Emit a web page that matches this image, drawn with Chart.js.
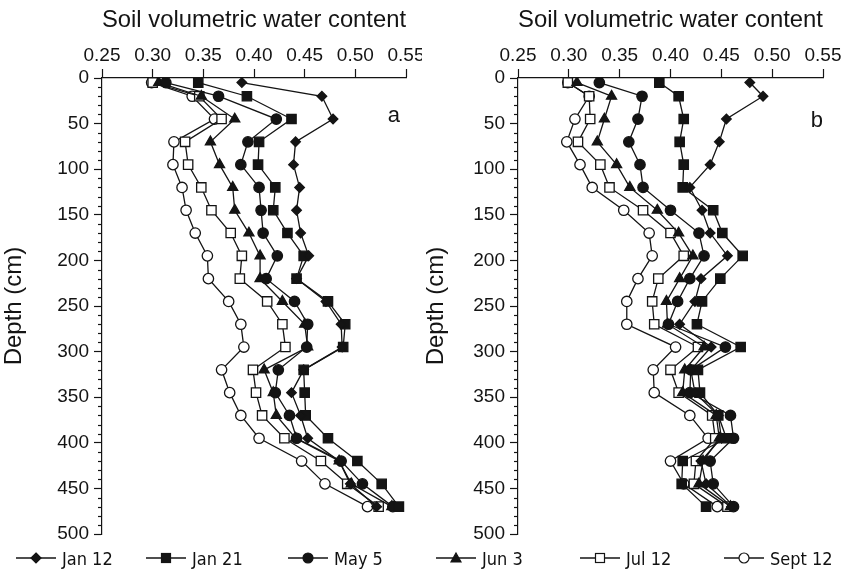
<!DOCTYPE html>
<html>
<head>
<meta charset="utf-8">
<script src="https://cdn.jsdelivr.net/npm/chart.js@4.4.0/dist/chart.umd.min.js"></script>
<style>
  body { margin: 0; background: #fff; }
  #wrap { position: relative; width: 844px; height: 572px; }
  .panel { position: absolute; top: 0; }
  #legend { position: absolute; left: 0; top: 547px; width: 844px; height: 22px;
    font-family: 'Liberation Sans Narrow', 'DejaVu Sans Condensed', sans-serif; font-size: 18px; color: #111; }
  .item { position: absolute; top: 0; height: 22px; display: flex; align-items: center; }
  .item svg { margin-right: 6px; }
</style>
</head>
<body>
<div id="wrap">
  <canvas id="panelA" class="panel" width="422" height="572" style="left:0"></canvas>
  <canvas id="panelB" class="panel" width="422" height="572" style="left:422px"></canvas>
  <div id="legend"></div>
</div>
<script>
// depths (cm)
var depths = [5, 20, 45, 70, 95, 120, 145, 170, 195, 220, 245, 270, 295, 320, 345, 370, 395, 420, 445, 470];
var seriesNames = ['Jan 12', 'Jan 21', 'May 5', 'Jun 3', 'Jul 12', 'Sept 12'];

// panel a
var aJan12 = [0.388, 0.467, 0.478, 0.441, 0.439, 0.445, 0.442, 0.446, 0.454, 0.442, 0.471, 0.486, 0.487, 0.449, 0.437, 0.446, 0.453, 0.484, 0.495, 0.521];
var aJan21 = [0.345, 0.393, 0.437, 0.405, 0.404, 0.421, 0.419, 0.433, 0.449, 0.442, 0.473, 0.490, 0.488, 0.449, 0.450, 0.451, 0.473, 0.502, 0.526, 0.543];
var aMay5  = [0.313, 0.365, 0.422, 0.394, 0.387, 0.405, 0.407, 0.409, 0.423, 0.412, 0.440, 0.453, 0.452, 0.424, 0.421, 0.435, 0.442, 0.486, 0.507, 0.537];
var aJun3  = [0.306, 0.348, 0.381, 0.357, 0.366, 0.379, 0.381, 0.395, 0.406, 0.406, 0.428, 0.450, 0.453, 0.410, 0.419, 0.422, 0.441, 0.484, 0.496, 0.536];
var aJul12 = [0.300, 0.346, 0.368, 0.332, 0.335, 0.348, 0.358, 0.377, 0.388, 0.386, 0.413, 0.428, 0.431, 0.399, 0.402, 0.408, 0.430, 0.466, 0.492, 0.523];
var aSep12 = [0.299, 0.339, 0.361, 0.321, 0.320, 0.329, 0.333, 0.342, 0.354, 0.355, 0.375, 0.387, 0.390, 0.368, 0.376, 0.387, 0.405, 0.447, 0.470, 0.512];

// panel b
var bJan12 = [0.478, 0.491, 0.455, 0.448, 0.439, 0.419, 0.431, 0.439, 0.456, 0.430, 0.424, 0.409, 0.440, 0.420, 0.424, 0.447, 0.450, 0.430, 0.435, 0.460];
var bJan21 = [0.389, 0.408, 0.413, 0.409, 0.413, 0.412, 0.442, 0.451, 0.471, 0.449, 0.431, 0.426, 0.469, 0.427, 0.429, 0.447, 0.455, 0.412, 0.411, 0.435];
var bMay5  = [0.330, 0.372, 0.368, 0.359, 0.370, 0.373, 0.400, 0.428, 0.433, 0.419, 0.407, 0.398, 0.454, 0.420, 0.419, 0.459, 0.462, 0.439, 0.442, 0.462];
var bJun3  = [0.308, 0.342, 0.335, 0.328, 0.347, 0.360, 0.387, 0.408, 0.422, 0.409, 0.396, 0.397, 0.433, 0.414, 0.412, 0.445, 0.448, 0.432, 0.428, 0.459];
var bJul12 = [0.299, 0.320, 0.321, 0.309, 0.331, 0.340, 0.373, 0.400, 0.413, 0.388, 0.382, 0.384, 0.427, 0.400, 0.408, 0.441, 0.444, 0.425, 0.423, 0.456];
var bSep12 = [0.299, 0.320, 0.306, 0.298, 0.311, 0.323, 0.354, 0.379, 0.382, 0.368, 0.357, 0.357, 0.405, 0.383, 0.384, 0.419, 0.437, 0.400, 0.413, 0.446];

var ink = '#141414';
var fontMain = "'Liberation Sans', Arial, sans-serif";

// marker look per series: style, fill, radius
var markers = [
  { style: 'rectRot', fill: ink, r: 4.8 },
  { style: 'rect', fill: ink, r: 6.6 },
  { style: 'circle', fill: ink, r: 5.2 },
  { style: 'triangle', fill: ink, r: 5.8 },
  { style: 'rect', fill: '#fff', r: 6.6 },
  { style: 'circle', fill: '#fff', r: 5.2 }
];

function buildDatasets(cols) {
  return cols.map(function(vals, i) {
    return {
      label: seriesNames[i],
      data: vals.map(function(v, k) { return { x: v, y: depths[k] }; }),
      showLine: true,
      borderColor: ink,
      borderWidth: 1.3,
      pointStyle: markers[i].style,
      pointRadius: markers[i].r,
      pointBackgroundColor: markers[i].fill,
      pointBorderColor: ink,
      pointBorderWidth: 1.3,
      tension: 0
    };
  });
}

// minor depth ticks + panel letter
var extras = {
  id: 'extras',
  afterDraw: function(chart) {
    var ctx = chart.ctx, y = chart.scales.y, x = chart.scales.x;
    var left = chart.chartArea.left;
    ctx.save();
    ctx.strokeStyle = ink;
    ctx.lineWidth = 1.2;
    for (var d = 10; d < 500; d += 10) {
      if (d % 50 === 0) continue;
      var py = Math.round(y.getPixelForValue(d)) + 0.5;
      ctx.beginPath();
      ctx.moveTo(left - 4, py);
      ctx.lineTo(left, py);
      ctx.stroke();
    }
    var p = chart.options.plugins.extras;
    ctx.fillStyle = ink;
    ctx.font = '22px ' + fontMain;
    ctx.textAlign = 'center';
    ctx.textBaseline = 'middle';
    ctx.fillText(p.letter, x.getPixelForValue(p.lx), y.getPixelForValue(p.ly));
    ctx.restore();
  }
};

function makePanel(id, cols, yWidth, padRight, letter, lx, ly) {
  return new Chart(document.getElementById(id), {
    type: 'scatter',
    data: { datasets: buildDatasets(cols) },
    plugins: [extras],
    options: {
      responsive: false,
      animation: false,
      layout: { padding: { left: 0, right: padRight, top: 0, bottom: 38 } },
      plugins: {
        legend: { display: false },
        tooltip: { enabled: false },
        extras: { letter: letter, lx: lx, ly: ly }
      },
      scales: {
        x: {
          type: 'linear', position: 'top', min: 0.25, max: 0.55,
          ticks: {
            stepSize: 0.05, autoSkip: false, maxRotation: 0, padding: 2,
            color: ink, font: { family: fontMain, size: 19 },
            callback: function(v) { return v.toFixed(2); }
          },
          grid: { drawOnChartArea: false, tickLength: 9, tickColor: ink, tickWidth: 1.2 },
          border: { color: ink, width: 1.2 },
          title: {
            display: true, text: 'Soil volumetric water content', color: ink,
            font: { family: fontMain, size: 24 }, padding: { top: 6, bottom: 0 }
          },
          afterFit: function(s) { s.height = 78; s.paddingLeft = 0; s.paddingRight = 0; }
        },
        y: {
          type: 'linear', reverse: true, min: 0, max: 500,
          ticks: {
            stepSize: 50, autoSkip: false, padding: 5,
            color: ink, font: { family: fontMain, size: 19 }
          },
          grid: { drawOnChartArea: false, tickLength: 8, tickColor: ink, tickWidth: 1.2 },
          border: { color: ink, width: 1.2 },
          title: {
            display: true, text: 'Depth (cm)', color: ink,
            font: { family: fontMain, size: 24 }, padding: { top: 0, bottom: 2 }
          },
          afterFit: function(s) { s.width = yWidth; s.paddingTop = 0; s.paddingBottom = 0; }
        }
      }
    }
  });
}

makePanel('panelA', [aJan12, aJan21, aMay5, aJun3, aJul12, aSep12], 102, 16, 'a', 0.538, 42);
makePanel('panelB', [bJan12, bJan21, bMay5, bJun3, bJul12, bSep12], 96, 21, 'b', 0.544, 47);

// legend built from the same series names and marker styles
var legendLeft = [16, 146, 288, 436, 580, 724];
function markerSvg(m) {
  var shape;
  if (m.style === 'rectRot') shape = '<polygon points="20,6 25,11 20,16 15,11" />';
  else if (m.style === 'rect') shape = '<rect x="15.5" y="6.5" width="9" height="9" />';
  else if (m.style === 'circle') shape = '<circle cx="20" cy="11" r="5" />';
  else shape = '<polygon points="20,6 25,15 15,15" />';
  return '<svg width="40" height="22"><line x1="0" y1="11" x2="40" y2="11" stroke="' + ink + '" stroke-width="1.3"/>' +
    '<g fill="' + m.fill + '" stroke="' + ink + '" stroke-width="1.2">' + shape + '</g></svg>';
}
var legend = document.getElementById('legend');
seriesNames.forEach(function(name, i) {
  var el = document.createElement('div');
  el.className = 'item';
  el.style.left = legendLeft[i] + 'px';
  el.innerHTML = markerSvg(markers[i]) + '<span>' + name + '</span>';
  legend.appendChild(el);
});
</script>
</body>
</html>
